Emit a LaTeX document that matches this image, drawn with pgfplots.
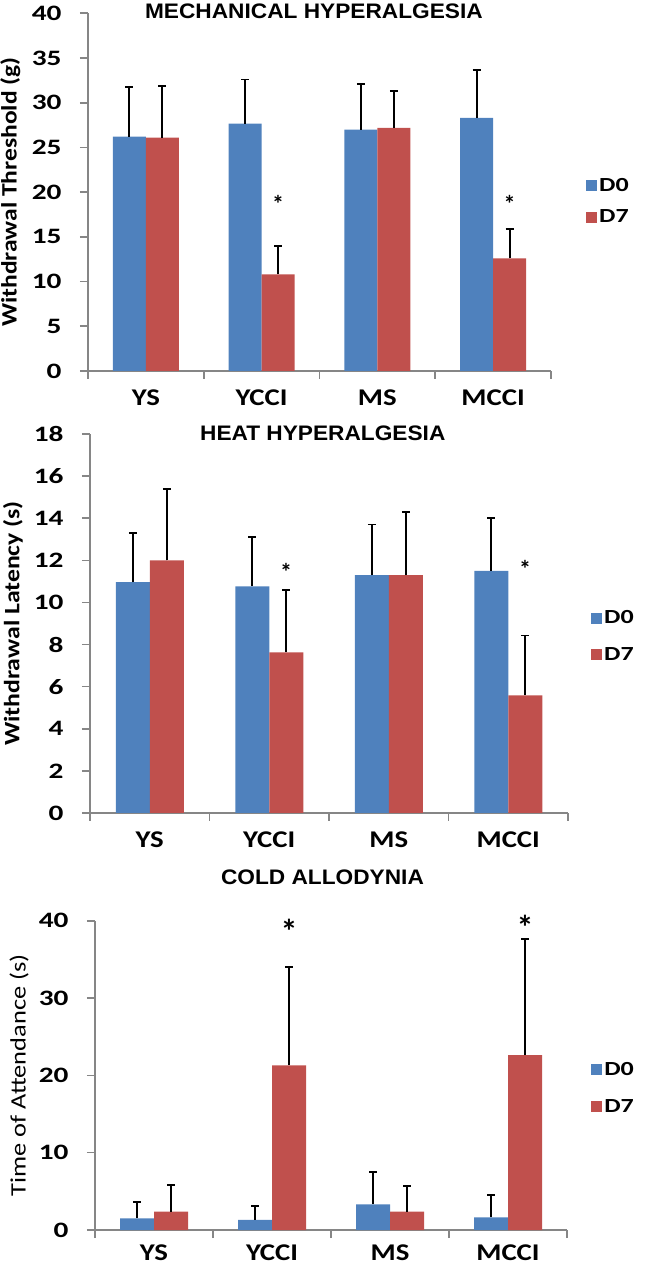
\documentclass[border=0pt]{standalone}
\usepackage{fontspec}
\setmainfont{Carlito}
\newfontfamily\titlefont{Liberation Sans}
\usepackage{graphicx}
\usepackage{pgfplots}
\pgfplotsset{compat=1.18}
\definecolor{cblue}{HTML}{4F81BD}
\definecolor{cred}{HTML}{C0504D}
\definecolor{axgray}{HTML}{868686}
\newcommand{\wx}[2]{\scalebox{#1}[1]{#2}}
\pgfplotsset{
  panel/.style={
    scale only axis,
    clip=false,
    ybar=0pt,
    bar width=33pt,
    xmin=-0.5, xmax=3.5,
    ymin=0,
    axis lines*=left,
    axis line style={axgray, line width=1.6pt},
    xtick={0,1,2,3},
    xticklabels={\wx{1.2}{YS},\wx{1.2}{YCCI},\wx{1.2}{MS},\wx{1.2}{MCCI}},
    major x tick style={draw=none},
    minor xtick={-0.5,0.5,1.5,2.5,3.5},
    minor x tick style={axgray, line width=1.6pt},
    minor tick length=8pt,
    major tick length=8pt,
    tick align=outside,
    y tick style={axgray, line width=1.6pt},
    /pgf/number format/assume math mode=true,
    yticklabel={\wx{1.33}{\pgfmathprintnumber{\tick}}},
    xticklabel style={font=\fontsize{24}{24}\selectfont\bfseries, yshift=-7pt},
    yticklabel style={font=\fontsize{22}{22}\selectfont\bfseries, xshift=-15pt},
    legend style={draw=none, fill=none, font=\fontsize{20}{20}\selectfont\bfseries, inner sep=0pt, row sep=13pt},
    legend cell align=left,
    legend image code/.code={\fill[##1] (0pt,-5.5pt) rectangle (11pt,5.5pt);},
    title style={font=\titlefont\fontsize{21}{21}\selectfont\bfseries, anchor=center, yshift=-6pt},
    ylabel style={font=\fontsize{22}{22}\selectfont\bfseries, anchor=center},
    error bars/error bar style={black, line width=1.8pt},
    error bars/error mark options={black, rotate=90, mark size=4pt, line width=1.8pt},
  },
  d0/.style={fill=cblue, draw=none, error bars/.cd, y dir=plus, y explicit},
  d7/.style={fill=cred, draw=none, error bars/.cd, y dir=plus, y explicit},
}
\begin{document}
\begin{tikzpicture}
\useasboundingbox (0,0) rectangle (651pt,1266pt);
% Panel 1
\begin{axis}[panel, at={(88pt,895pt)}, anchor=south west,
  width=463pt, height=357.7pt, ymax=40, ytick={0,5,...,40},
  title={\wx{1.08}{MECHANICAL HYPERALGESIA}}, title style={at={(0.488,1.005)}},
  ylabel={\wx{1.16}{Withdrawal Threshold (g)}}, ylabel style={at={(-0.168,0.5)}},
  legend style={at={(1.0756,0.474)}, anchor=west}]
\addplot[d0] coordinates {(0,26.2) +- (0,5.6) (1,27.65) +- (0,4.95) (2,27.0) +- (0,5.1) (3,28.3) +- (0,5.4)};
\addplot[d7] coordinates {(0,26.1) +- (0,5.8) (1,10.8) +- (0,3.2) (2,27.2) +- (0,4.1) (3,12.6) +- (0,3.3)};
\legend{\wx{1.3}{D0},\wx{1.3}{D7}}
\node[font=\fontsize{24}{24}\selectfont\bfseries] at (axis cs:1.1425,18.7) {*};
\node[font=\fontsize{24}{24}\selectfont\bfseries] at (axis cs:3.1425,18.7) {*};
\end{axis}
% Panel 2
\begin{axis}[panel, at={(90pt,453pt)}, anchor=south west,
  width=478pt, height=379pt, ymax=18, ytick={0,2,...,18}, bar width=34pt,
  title={\wx{1.08}{HEAT HYPERALGESIA}}, title style={at={(0.487,1.001)}},
  ylabel={\wx{1.17}{Withdrawal Latency (s)}}, ylabel style={at={(-0.161,0.5)}},
  legend style={at={(1.048,0.466)}, anchor=west, row sep=18pt}]
\addplot[d0] coordinates {(0,10.97) +- (0,2.33) (1,10.76) +- (0,2.34) (2,11.3) +- (0,2.4) (3,11.5) +- (0,2.5)};
\addplot[d7] coordinates {(0,12.0) +- (0,3.4) (1,7.63) +- (0,2.97) (2,11.3) +- (0,3.0) (3,5.59) +- (0,2.84)};
\legend{\wx{1.3}{D0},\wx{1.3}{D7}}
\node[font=\fontsize{24}{24}\selectfont\bfseries] at (axis cs:1.142,11.45) {*};
\node[font=\fontsize{24}{24}\selectfont\bfseries] at (axis cs:3.142,11.6) {*};
\end{axis}
% Panel 3
\begin{axis}[panel, at={(95pt,36pt)}, anchor=south west,
  width=472pt, height=309.3pt, ymax=40, ytick={0,10,...,40}, bar width=34pt,
  xticklabel style={inner sep=1pt, yshift=1pt},
  title={\wx{1.08}{COLD ALLODYNIA}}, title style={at={(0.482,1.141)}},
  ylabel={\wx{1.2}{Time of Attendance (s)}}, ylabel style={at={(-0.161,0.5)}, font=\fontsize{22}{22}\selectfont},
  legend style={at={(1.051,0.459)}, anchor=west, row sep=19pt}]
\addplot[d0] coordinates {(0,1.5) +- (0,2.16) (1,1.3) +- (0,1.8) (2,3.3) +- (0,4.2) (3,1.64) +- (0,2.86)};
\addplot[d7] coordinates {(0,2.37) +- (0,3.43) (1,21.3) +- (0,12.75) (2,2.37) +- (0,3.33) (3,22.6) +- (0,15.0)};
\legend{\wx{1.3}{D0},\wx{1.3}{D7}}
\node[font=\fontsize{34}{34}\selectfont\bfseries] at (axis cs:1.144,38.6) {*};
\node[font=\fontsize{34}{34}\selectfont\bfseries] at (axis cs:3.144,39.1) {*};
\end{axis}
\end{tikzpicture}
\end{document}
